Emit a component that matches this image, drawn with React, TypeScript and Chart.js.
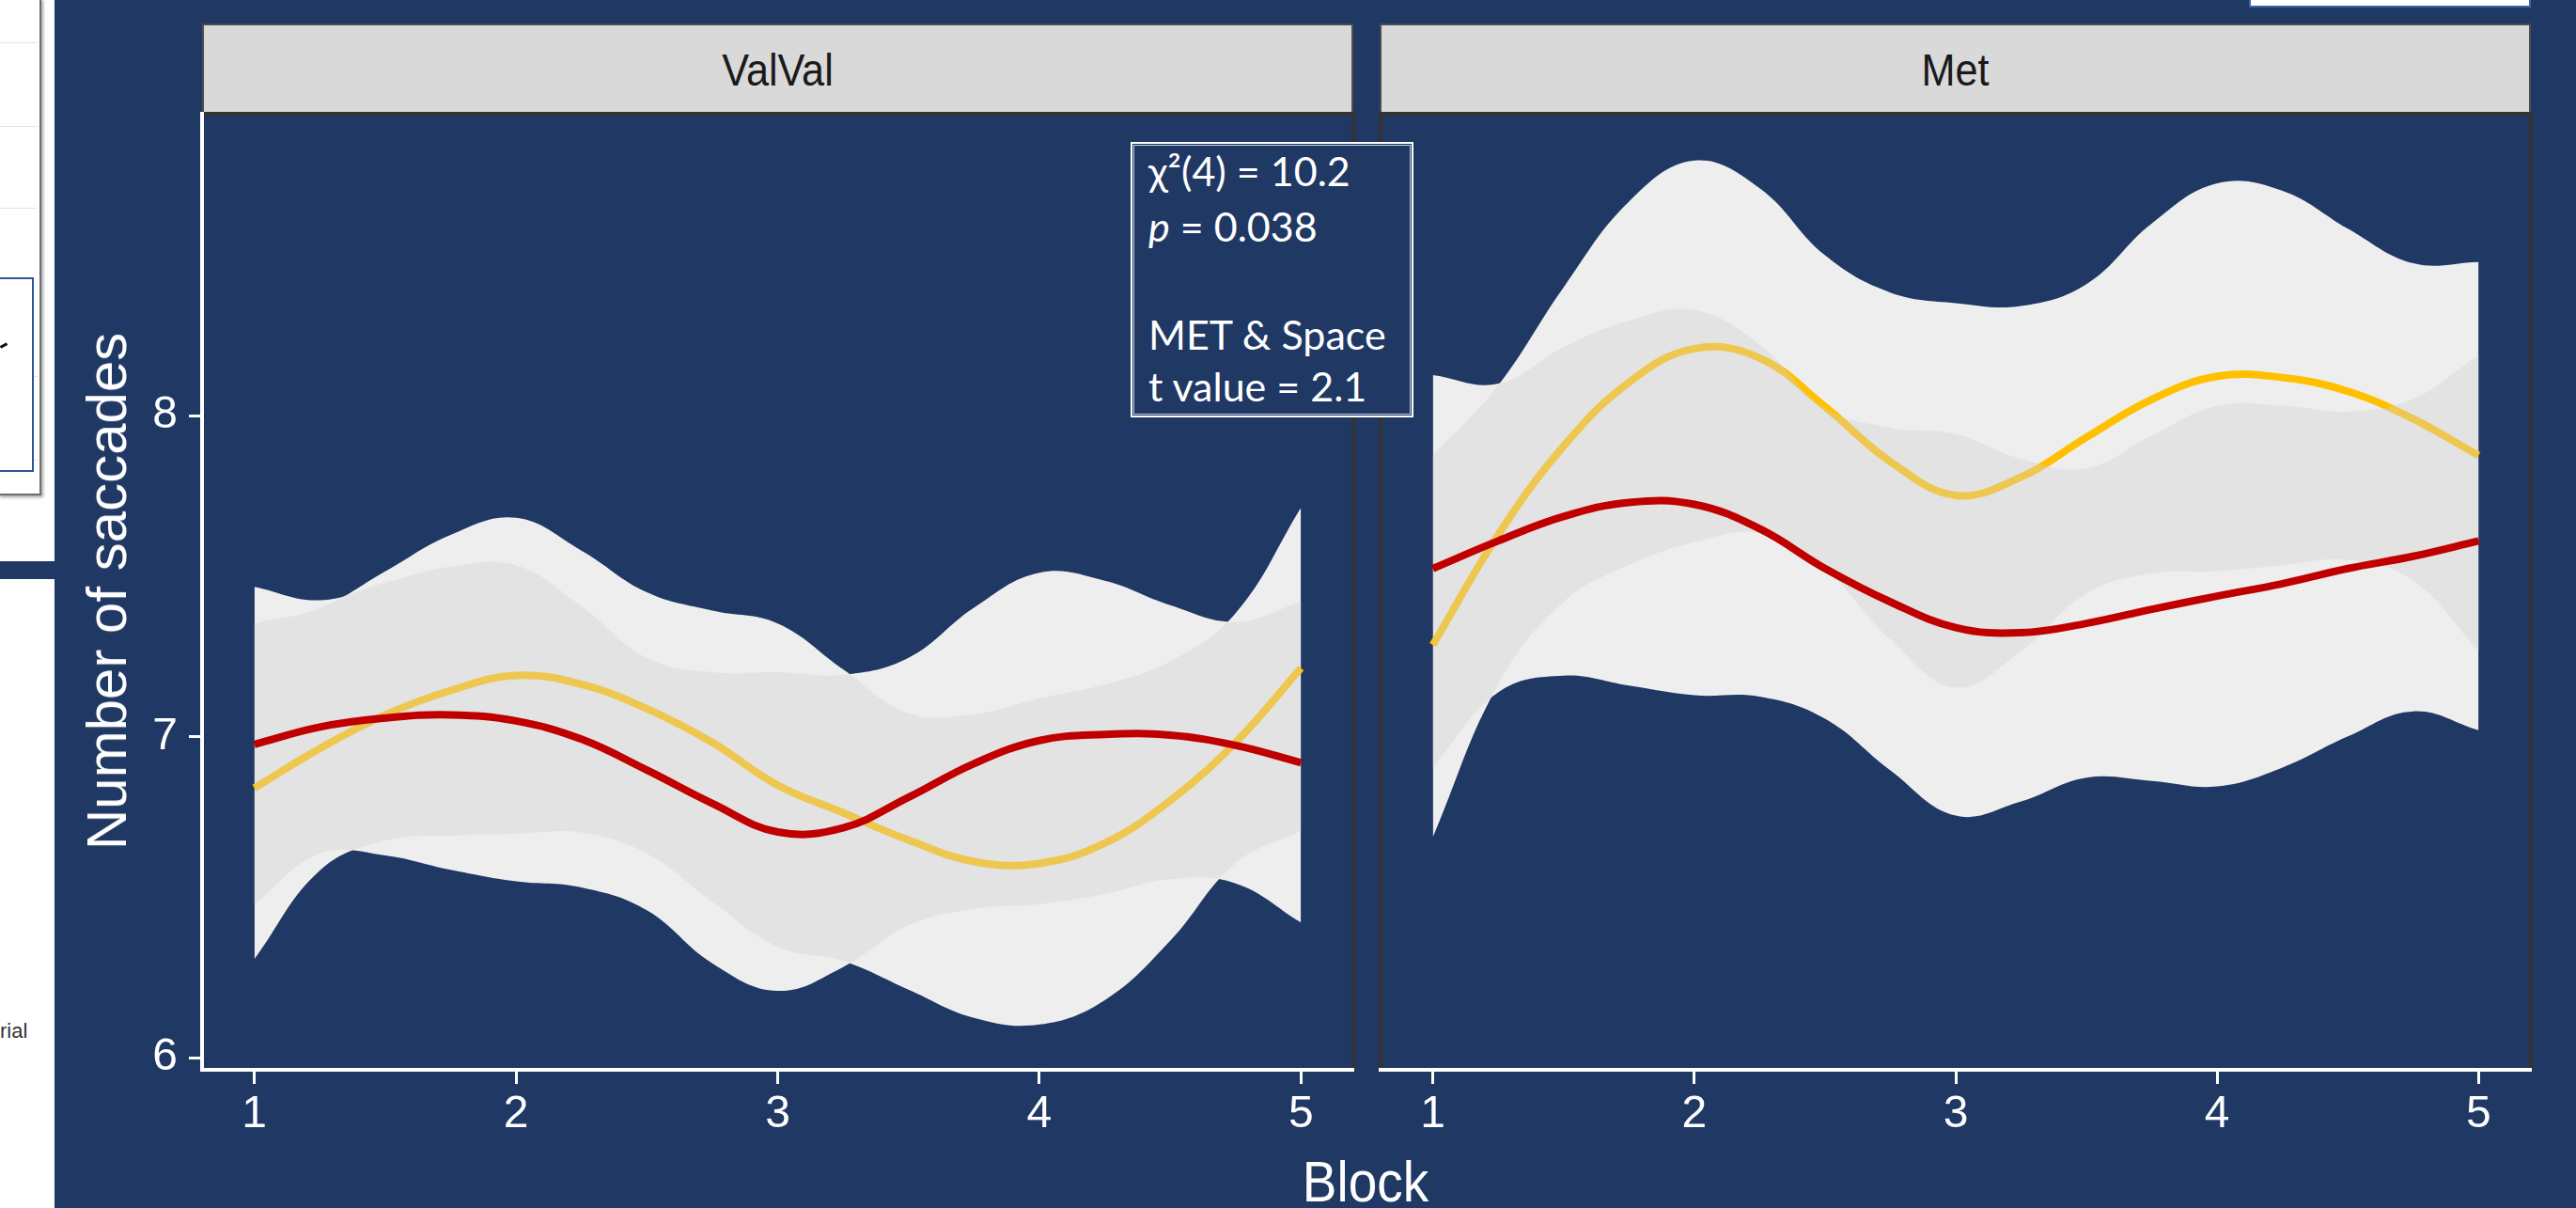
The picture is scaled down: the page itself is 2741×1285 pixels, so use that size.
import React, { useEffect, useRef } from 'react';
import { Chart, registerables } from 'chart.js';

Chart.register(...registerables);

const NAVY = '#203864';
const RIBBON = '#EEEEEE';
const OVERLAP = 'rgba(209,209,209,0.38)';
const YELLOW = '#FFC000';
const RED = '#C00000';
const FONT = "'Liberation Sans', Arial, sans-serif";

const facetLabels = ['ValVal', 'Met'];
const blocks = [1, 1.25, 1.5, 1.75, 2, 2.25, 2.5, 2.75, 3, 3.25, 3.5, 3.75, 4, 4.25, 4.5, 4.75, 5];
const xTickValues = [1, 2, 3, 4, 5];
const yTickValues = [6, 7, 8];
const xLabel = 'Block';
const yLabel = 'Number of saccades';

// ValVal facet
const valYellowFit = [6.84, 6.963, 7.068, 7.144, 7.191, 7.163, 7.087, 6.982, 6.849, 6.763, 6.678, 6.611, 6.605, 6.668, 6.801, 6.982, 7.214];
const valYellowHi = [7.353, 7.4, 7.515, 7.629, 7.682, 7.58, 7.45, 7.393, 7.353, 7.21, 7.073, 7.07, 7.119, 7.163, 7.235, 7.385, 7.714];
const valYellowLo = [6.307, 6.583, 6.676, 6.691, 6.697, 6.701, 6.636, 6.486, 6.345, 6.301, 6.212, 6.124, 6.103, 6.179, 6.364, 6.606, 6.706];
const valRedFit = [6.976, 7.03, 7.058, 7.068, 7.049, 6.992, 6.896, 6.792, 6.703, 6.716, 6.811, 6.916, 6.988, 7.007, 7.005, 6.973, 6.919];
const valRedHi = [7.467, 7.425, 7.48, 7.53, 7.534, 7.406, 7.245, 7.201, 7.201, 7.193, 7.246, 7.402, 7.511, 7.486, 7.41, 7.358, 7.42];
const valRedLo = [6.478, 6.636, 6.63, 6.585, 6.549, 6.53, 6.459, 6.294, 6.208, 6.282, 6.412, 6.463, 6.478, 6.51, 6.556, 6.543, 6.421];

// Met facet
const metYellowFit = [7.286, 7.629, 7.905, 8.104, 8.209, 8.18, 8.028, 7.857, 7.752, 7.809, 7.933, 8.051, 8.123, 8.119, 8.076, 7.99, 7.876];
const metYellowHi = [7.876, 8.095, 8.4, 8.667, 8.795, 8.709, 8.5, 8.384, 8.351, 8.342, 8.41, 8.599, 8.724, 8.701, 8.583, 8.475, 8.479];
const metYellowLo = [6.687, 7.163, 7.42, 7.535, 7.606, 7.634, 7.52, 7.303, 7.153, 7.267, 7.446, 7.509, 7.515, 7.534, 7.551, 7.486, 7.267];
const metRedFit = [7.524, 7.61, 7.686, 7.73, 7.724, 7.648, 7.524, 7.42, 7.34, 7.324, 7.353, 7.397, 7.438, 7.477, 7.524, 7.562, 7.61];
const metRedHi = [8.127, 8.1, 8.214, 8.296, 8.329, 8.222, 8.024, 7.963, 7.943, 7.866, 7.836, 7.939, 8.03, 8.032, 8.013, 8.053, 8.19];
const metRedLo = [6.906, 7.138, 7.19, 7.159, 7.129, 7.125, 7.056, 6.895, 6.754, 6.798, 6.872, 6.862, 6.845, 6.904, 7.001, 7.079, 7.02];

const annotationLines = ['χ²(4) = 10.2', 'p = 0.038', '', 'MET & Space', 't value = 2.1'];

const X_MIN = 0.8;
const X_MAX = 5.2;
const Y_MIN = 5.962;
const Y_MAX = 8.941;

const pts = (arr: number[]) => blocks.map((b, i) => ({ x: b, y: arr[i] }));

function clipSide(ctx: CanvasRenderingContext2D, chart: any, idx: number, below: boolean) {
  const meta = chart.getDatasetMeta(idx);
  const line = meta.dataset;
  const points = meta.data;
  const a = chart.chartArea;
  if (line.updateControlPoints) line.updateControlPoints(a, 'x');
  ctx.beginPath();
  line.path(ctx);
  const edge = below ? a.bottom + 60 : a.top - 60;
  ctx.lineTo(points[points.length - 1].x, edge);
  ctx.lineTo(points[0].x, edge);
  ctx.closePath();
  ctx.clip();
}

const framePlugin = {
  id: 'panelFrame',
  beforeDraw(chart: any) {
    const { ctx, chartArea: a } = chart;
    ctx.save();
    ctx.strokeStyle = '#333333';
    ctx.lineWidth = 4;
    ctx.strokeRect(a.left, a.top, a.right - a.left, a.bottom - a.top);
    ctx.restore();
  },
};

const overlapPlugin = {
  id: 'ribbonOverlap',
  beforeDatasetDraw(chart: any, args: any) {
    if (args.index !== 5) return;
    const { ctx, chartArea: a } = chart;
    ctx.save();
    clipSide(ctx, chart, 0, true);
    clipSide(ctx, chart, 1, false);
    clipSide(ctx, chart, 2, true);
    clipSide(ctx, chart, 3, false);
    ctx.fillStyle = OVERLAP;
    ctx.fillRect(a.left, a.top, a.right - a.left, a.bottom - a.top);
    ctx.restore();
  },
};

const TENSION = 0.4;

function makeDatasets(yFit: number[], yHi: number[], yLo: number[], rFit: number[], rHi: number[], rLo: number[]) {
  const band = (arr: number[], fill: boolean, order: number) => ({
    data: pts(arr),
    borderWidth: 0,
    pointRadius: 0,
    fill: fill ? '+1' : false,
    backgroundColor: RIBBON,
    borderColor: 'rgba(0,0,0,0)',
    tension: TENSION,
    order,
  });
  const fit = (arr: number[], color: string, order: number) => ({
    data: pts(arr),
    borderColor: color,
    borderWidth: 8,
    pointRadius: 0,
    fill: false,
    tension: TENSION,
    borderCapStyle: 'butt',
    order,
  });
  return [band(rHi, true, 10), band(rLo, false, 10), band(yHi, true, 9), band(yLo, false, 9), fit(yFit, YELLOW, 8), fit(rFit, RED, 7)];
}

function makeOptions(showY: boolean, yWidth: number, padding: any) {
  return {
    responsive: false,
    maintainAspectRatio: false,
    animation: false,
    events: [],
    layout: { padding },
    plugins: { legend: { display: false }, tooltip: { enabled: false }, title: { display: false } },
    scales: {
      x: {
        type: 'linear',
        min: X_MIN,
        max: X_MAX,
        afterBuildTicks: (s: any) => {
          s.ticks = xTickValues.map((v) => ({ value: v }));
        },
        afterFit: (s: any) => {
          s.height = 147;
        },
        grid: { display: true, drawOnChartArea: false, drawTicks: true, tickLength: 15, tickWidth: 3, tickColor: '#ffffff', color: '#ffffff' },
        border: { display: true, color: '#ffffff', width: 4 },
        ticks: { color: '#ffffff', font: { family: FONT, size: 48 }, padding: 4, autoSkip: false, maxRotation: 0 },
      },
      y: {
        type: 'linear',
        display: showY,
        min: Y_MIN,
        max: Y_MAX,
        afterBuildTicks: (s: any) => {
          s.ticks = yTickValues.map((v) => ({ value: v }));
        },
        afterFit: (s: any) => {
          s.width = yWidth;
        },
        grid: { display: true, drawOnChartArea: false, drawTicks: true, tickLength: 14, tickWidth: 3, tickColor: '#ffffff', color: '#ffffff' },
        border: { display: true, color: '#ffffff', width: 4 },
        ticks: { color: '#ffffff', font: { family: FONT, size: 48 }, padding: 12, autoSkip: false },
      },
    },
  };
}

export default function App() {
  const ref1 = useRef<HTMLCanvasElement>(null);
  const ref2 = useRef<HTMLCanvasElement>(null);

  useEffect(() => {
    document.body.style.margin = '0';
    document.body.style.overflow = 'hidden';
    Chart.defaults.font.family = FONT;
    const c1 = new Chart(ref1.current as HTMLCanvasElement, {
      type: 'line',
      data: { datasets: makeDatasets(valYellowFit, valYellowHi, valYellowLo, valRedFit, valRedHi, valRedLo) as any },
      options: makeOptions(true, 157, { left: 0, right: 15, top: 121, bottom: 0 }) as any,
      plugins: [framePlugin, overlapPlugin],
    });
    const c2 = new Chart(ref2.current as HTMLCanvasElement, {
      type: 'line',
      data: { datasets: makeDatasets(metYellowFit, metYellowHi, metYellowLo, metRedFit, metRedHi, metRedLo) as any },
      options: makeOptions(false, 0, { left: 24, right: 48, top: 121, bottom: 0 }) as any,
      plugins: [framePlugin, overlapPlugin],
    });
    return () => {
      c1.destroy();
      c2.destroy();
    };
  }, []);

  const abs = (s: React.CSSProperties): React.CSSProperties => ({ position: 'absolute', ...s });

  const strip = (label: string, left: number) => (
    <div
      style={abs({
        left,
        top: 25,
        width: 1225,
        height: 96,
        background: '#D9D9D9',
        border: '2px solid #4D4D4D',
        boxSizing: 'border-box',
      })}
    >
      <div
        style={abs({
          left: 0,
          right: 0,
          top: 24,
          textAlign: 'center',
          fontFamily: FONT,
          fontSize: 48,
          lineHeight: '48px',
          color: '#1A1A1A',
          transform: 'scaleX(0.9)',
          whiteSpace: 'nowrap',
        })}
      >
        {label}
      </div>
    </div>
  );

  const lineTops = [153, 212, 270, 327, 382];

  return (
    <div style={{ position: 'relative', width: 2741, height: 1285, overflow: 'hidden', background: '#ffffff' }}>
      {/* fragments of the surrounding slide on the far left */}
      <div style={abs({ left: -2, top: -2, width: 46, height: 529, border: '2px solid #6E6E6E', boxSizing: 'border-box', background: '#fff', boxShadow: '2px 2px 3px rgba(0,0,0,0.35)' })} />
      {[45, 134, 221, 400, 489].map((y) => (
        <div key={y} style={abs({ left: 0, top: y, width: 40, height: 1, background: '#E4E4E4' })} />
      ))}
      <div style={abs({ left: -2, top: 295, width: 38, height: 207, border: '2px solid #2E5597', boxSizing: 'border-box', background: '#fff' })} />
      <div style={abs({ left: 0, top: 366, width: 8, height: 3, background: '#111', transform: 'rotate(-28deg)' })} />
      <div style={abs({ left: 0, top: 597, width: 60, height: 19, background: NAVY })} />
      <div style={abs({ left: 0, top: 1086, fontFamily: FONT, fontSize: 22, lineHeight: '22px', color: '#333' })}>rial</div>

      {/* navy slide background */}
      <div style={abs({ left: 58, top: 0, width: 2683, height: 1285, background: NAVY })} />
      <div style={abs({ left: 2393, top: -4, width: 300, height: 12, background: '#fff', border: '2px solid #3B64AD', boxSizing: 'border-box' })} />

      {strip(facetLabels[0], 215)}
      {strip(facetLabels[1], 1468)}

      <canvas ref={ref1} width={1397} height={1285} style={abs({ left: 58, top: 0 })} />
      <canvas ref={ref2} width={1296} height={1285} style={abs({ left: 1445, top: 0 })} />

      <div
        style={abs({
          left: 114,
          top: 629,
          transform: 'translate(-50%, -50%) rotate(-90deg)',
          fontFamily: FONT,
          fontSize: 60,
          lineHeight: '60px',
          color: '#fff',
          whiteSpace: 'nowrap',
        })}
      >
        {yLabel}
      </div>
      <div
        style={abs({
          left: 1453,
          top: 1227,
          transform: 'translateX(-50%) scaleX(0.9)',
          fontFamily: FONT,
          fontSize: 61,
          lineHeight: '61px',
          color: '#fff',
          whiteSpace: 'nowrap',
        })}
      >
        {xLabel}
      </div>

      <div
        style={abs({
          left: 1203,
          top: 151,
          width: 301,
          height: 293,
          boxSizing: 'border-box',
          border: '2px solid #fff',
          boxShadow: `inset 0 0 0 1px ${NAVY}, inset 0 0 0 2px rgba(255,255,255,0.75)`,
          background: NAVY,
        })}
      />
      {annotationLines.map((t, i) =>
        t ? (
          <div
            key={i}
            style={abs({
              left: 1222,
              top: lineTops[i],
              fontFamily: "Lato, 'Open Sans', sans-serif",
              fontSize: 43,
              lineHeight: '57px',
              color: '#fff',
              whiteSpace: 'nowrap',
            })}
          >
            {t.startsWith('p ') ? (
              <>
                <i>p</i>
                {t.slice(1)}
              </>
            ) : (
              t
            )}
          </div>
        ) : null
      )}
    </div>
  );
}
